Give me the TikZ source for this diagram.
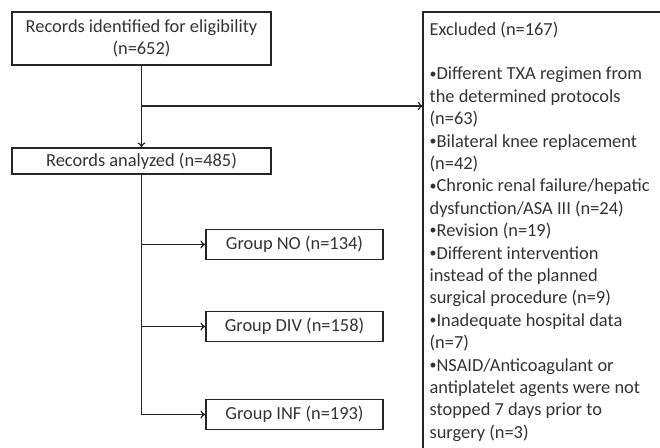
\documentclass[tikz,border=0pt]{standalone}
\usepackage{fontspec}
\setmainfont{Carlito}
\usetikzlibrary{arrows.meta}
\newcommand\bul{\raisebox{.1em}{\fontsize{14}{14}\selectfont•}}
\tikzset{
  box/.style={draw, align=center, inner sep=0pt, minimum width=259pt},
  grp/.style={draw, inner sep=0pt, minimum width=177pt, minimum height=30pt},
  exc/.style={align=left, inner xsep=6pt, inner ysep=9pt},
  flow/.style={-{To[length=5pt,width=8pt]}},
}
\begin{document}
\begin{tikzpicture}[x=1pt, y=-1pt, font=\fontsize{18.4}{22.4}\selectfont, line width=1.2pt, color=black!85, text=black!80]
  \useasboundingbox (0,0) rectangle (660,447);
  \clip (0,0) rectangle (660,447);
  \node[box, minimum height=53pt] (rec) at (141.5,38.5) {Records identified for eligibility\\(n=652)};
  \node[box, minimum height=26pt] (ana) at (141.5,161) {Records analyzed (n=485)};
  \node[grp] (gno)  at (294.5,244.5) {Group NO (n=134)};
  \node[grp] (gdiv) at (294.5,326.5) {Group DIV (n=158)};
  \node[grp] (ginf) at (294.5,414.5) {Group INF (n=193)};
  \node[exc, anchor=north west] (exc) at (423,12) {Excluded (n=167)\\[22.4pt]
    \bul Different TXA regimen from\\the determined protocols\\(n=63)\\
    \bul Bilateral knee replacement\\(n=42)\\
    \bul Chronic renal failure/hepatic\\dysfunction/ASA III (n=24)\\
    \bul Revision (n=19)\\
    \bul Different intervention\\instead of the planned\\surgical procedure (n=9)\\
    \bul Inadequate hospital data\\(n=7)\\
    \bul NSAID/Anticoagulant or\\antiplatelet agents were not\\stopped 7 days prior to\\surgery (n=3)};
  \draw (exc.north west) rectangle ++(300,480);
  % exclusion branch
  \coordinate (split) at (141.5,106);
  \draw[flow] (rec) -- (ana);
  \draw[flow] (split) -- (split -| exc.west);
  % groups
  \draw (ana.south) -- (ana.south |- ginf);
  \foreach \g in {gno,gdiv,ginf}
    \draw[flow] (ana.south |- \g) -- (\g);
\end{tikzpicture}
\end{document}
